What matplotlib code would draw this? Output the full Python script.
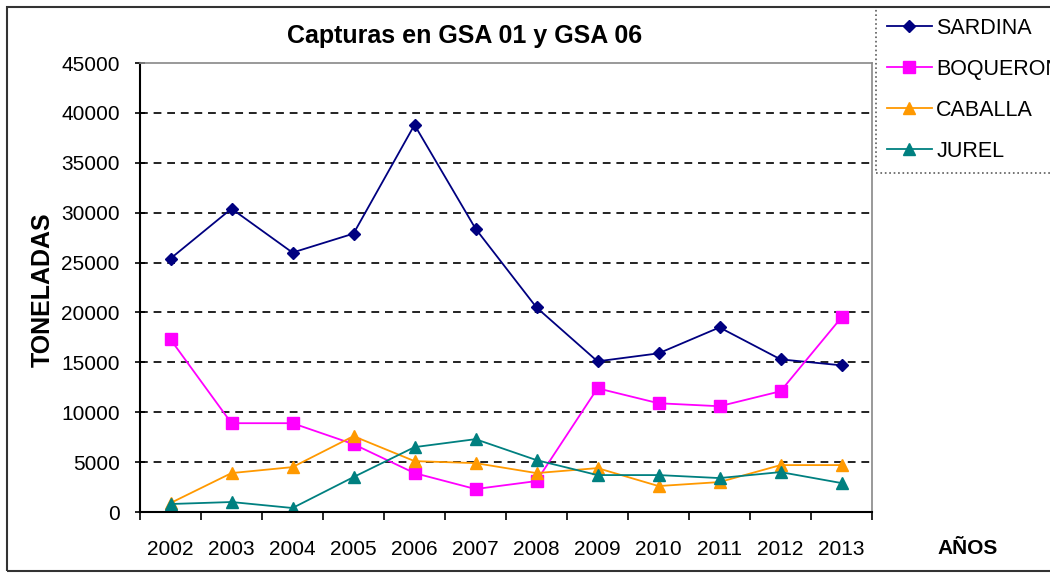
import numpy as np
import matplotlib
matplotlib.use("Agg")
import matplotlib.pyplot as plt
from matplotlib.patches import Rectangle

plt.rcParams['font.family'] = ['Liberation Sans', 'DejaVu Sans']

years = ['2002', '2003', '2004', '2005', '2006', '2007', '2008', '2009', '2010', '2011', '2012', '2013']
sardina = [25400, 30400, 26000, 27900, 38800, 28400, 20500, 15100, 15900, 18500, 15300, 14700]
boqueron = [17300, 8900, 8900, 6800, 3900, 2300, 3100, 12400, 10900, 10600, 12100, 19500]
caballa = [900, 3900, 4500, 7600, 5100, 4900, 3900, 4400, 2600, 3000, 4700, 4700]
jurel = [800, 1000, 400, 3500, 6500, 7300, 5200, 3700, 3700, 3400, 4000, 2900]

series = [
    ('SARDINA', sardina, '#000080', 'D', 6),
    ('BOQUERON', boqueron, '#FF00FF', 's', 8),
    ('CABALLA', caballa, '#FF9900', '^', 8),
    ('JUREL', jurel, '#008080', '^', 8),
]

fig = plt.figure(figsize=(10.5, 5.73), dpi=100)
ax = fig.add_axes([140/1050, 1 - 512/573, 732/1050, 449/573])

x = np.arange(len(years))
for name, vals, col, mk, ms in series:
    ax.plot(x, vals, color=col, marker=mk, markersize=ms, linewidth=1.3, label=name)

ax.set_xlim(-0.5, len(years) - 0.5)
ax.set_ylim(0, 45000)
ax.set_yticks(np.arange(0, 45001, 5000))
ax.set_xticks(x)
ax.set_xticklabels(years)
ax.set_xticks(np.arange(-0.5, len(years), 1), minor=True)
ax.tick_params(axis='x', which='major', length=0, pad=20, labelsize=15)
ax.tick_params(axis='x', which='minor', length=6, width=1.2, direction='out')
ax.tick_params(axis='y', length=7, width=1.2, direction='inout', labelsize=15, pad=11)

for v in range(5000, 45000, 5000):
    ax.axhline(v, color='#222222', linestyle=(0, (4, 3)), linewidth=1.4, zorder=0)

ax.spines['left'].set_color('black')
ax.spines['left'].set_linewidth(1.5)
ax.spines['bottom'].set_color('black')
ax.spines['bottom'].set_linewidth(1.5)
ax.spines['top'].set_color('#888888')
ax.spines['right'].set_color('#888888')
ax.spines['top'].set_linewidth(1.2)
ax.spines['right'].set_linewidth(1.2)

fig.text(465/1050, 1 - 36/573, 'Capturas en GSA 01 y GSA 06', ha='center', va='center',
         fontsize=18, fontweight='bold')
fig.text(43/1050, 1 - 290/573, 'TONELADAS', ha='center', va='center', rotation=90,
         fontsize=18, fontweight='bold')
fig.text(968/1050, 1 - 548/573, 'AÑOS', ha='center', va='center',
         fontsize=15, fontweight='bold')

leg = ax.legend(loc='upper left', bbox_to_anchor=(876/1050, 1 - 7/573), bbox_transform=fig.transFigure,
                fontsize=15.5, frameon=True, fancybox=False, handlelength=2.1, handletextpad=0.2,
                labelspacing=0.93, borderpad=0.5, borderaxespad=0)
frame = leg.get_frame()
frame.set_edgecolor('#333333')
frame.set_linestyle(':')
frame.set_linewidth(1.2)

# outer chart border
fig.patches.append(Rectangle((7/1050, 2/573), 1.2, 1 - 9/573, transform=fig.transFigure,
                             fill=False, edgecolor='#333333', linewidth=1.5))

fig.savefig('out.png', dpi=100)
